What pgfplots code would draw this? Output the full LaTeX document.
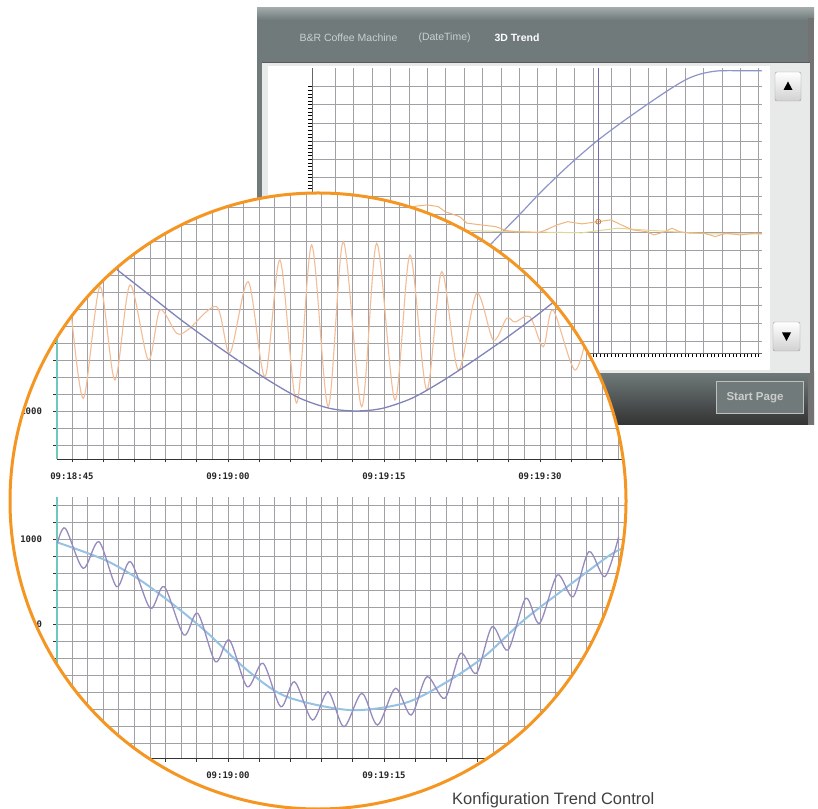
\documentclass[border=0pt]{standalone}
\usepackage{pgfplots}
\pgfplotsset{compat=1.18}
\usepackage{fontspec}
\setmainfont{Liberation Sans}
\newfontfamily\tickfont{DejaVu Sans Mono}
\definecolor{orng}{RGB}{245,150,35}
\definecolor{winbody}{RGB}{112,122,122}
\definecolor{winlight}{RGB}{160,168,168}
\definecolor{panel}{RGB}{232,234,234}
\definecolor{hdr}{RGB}{200,208,208}
\definecolor{gridc}{RGB}{160,160,165}
\definecolor{cgrid}{RGB}{160,160,165}
\definecolor{tealc}{RGB}{110,200,190}
\definecolor{blueA}{RGB}{140,148,200}
\definecolor{orA}{RGB}{240,180,125}
\definecolor{yelA}{RGB}{225,215,145}
\definecolor{curs}{RGB}{110,110,170}
\definecolor{orB}{RGB}{242,188,150}
\definecolor{blueB}{RGB}{128,132,185}
\definecolor{ltblue}{RGB}{150,195,228}
\definecolor{purp}{RGB}{150,138,190}
\pgfplotsset{
  circax/.style={scale only axis, width=583pt, xmin=43.56, xmax=99.62,
    axis lines*=left, axis line style={-},
    x axis line style={black!80, line width=0.8pt},
    y axis line style={tealc, line width=2.2pt},
    xtick={45,48,...,99}, minor x tick num=1,
    grid=both, major grid style={cgrid, line width=0.8pt},
    minor grid style={cgrid, line width=0.8pt},
    tick style={black!80, line width=0.7pt},
    major tick length=3.5pt, minor tick length=0pt, tick align=outside,
    ticklabel style={font=\tickfont\bfseries\fontsize{9}{10}\selectfont, text=black!85},
    xticklabel style={yshift=-7pt}, yticklabel style={xshift=-8pt},
    xticklabels={09:18:45,,,,,09:19:00,,,,,09:19:15,,,,,09:19:30,,,}}
}
\begin{document}
\begin{tikzpicture}
\useasboundingbox (0pt,0pt) rectangle (818pt,808pt);
% ---- window ----
\fill[winbody] (257pt,383pt) rectangle (814pt,800pt);
\shade[top color=winlight, bottom color=winbody] (257pt,788pt) rectangle (814pt,800pt);
\shade[top color=winbody, bottom color=black!80] (257pt,383pt) rectangle (814pt,436pt);
\fill[black!55] (808pt,383pt) rectangle (814pt,790pt);
\fill[panel] (262pt,435pt) rectangle (810pt,745pt);
\draw[black!65, line width=1.5pt] (262pt,745.5pt)--(810pt,745.5pt);
\fill[white] (268pt,438pt) rectangle (770pt,742pt);
\node[anchor=west, text=hdr, font=\fontsize{10.5}{11}\selectfont] at (296pt,770pt) {B\&R Coffee Machine};
\node[anchor=west, text=hdr, font=\fontsize{10.5}{11}\selectfont] at (415pt,770pt) {(DateTime)};
\node[anchor=west, text=white, font=\bfseries\fontsize{10.5}{11}\selectfont] at (491pt,770pt) {3D Trend};
% up / down buttons
\draw[rounded corners=2pt, top color=white, bottom color=black!18, draw=black!40] (775pt,707pt) rectangle (801pt,736pt);
\fill[black] (788pt,726.5pt) -- (783.5pt,718pt) -- (792.5pt,718pt) -- cycle;
\draw[rounded corners=2pt, top color=white, bottom color=black!18, draw=black!40] (773pt,457pt) rectangle (800pt,486pt);
\fill[black] (786.5pt,467pt) -- (782pt,475.5pt) -- (791pt,475.5pt) -- cycle;
% start page button
\draw[draw=black!25, line width=1pt, fill=winbody] (716.5pt,394.5pt) rectangle (803.5pt,426.5pt);
\node[text=black!20, font=\bfseries\fontsize{11.5}{12}\selectfont] at (755pt,410pt) {Start Page};
% ---- 3D trend axis ----
\begin{axis}[at={(312pt,455pt)}, anchor=south west, scale only axis,
  width=450pt, height=284.5pt,
  xmin=-1.27, xmax=23.17, ymin=-0.62, ymax=15,
  xtick={0,...,23}, ytick={0,...,14}, xticklabel=\empty, yticklabel=\empty,
  grid=major, major grid style={gridc, line width=0.9pt},
  minor tick num=4, tick style={black, line width=0.9pt},
  major tick length=4pt, minor tick length=4pt, tick align=outside,
  axis lines*=left, axis line style={-, black!60}]
\addplot[blueA, line width=1.2pt, smooth] coordinates {
(3.52,0.64) (5.69,2.55) (8.31,5.22) (9.09,6.04) (10.07,7.05) (11.05,8.10) (12.03,9.07)
(13.0,9.98) (14.28,11.08) (15.74,12.18) (17.30,13.28) (18.3,13.95) (19.06,14.40)
(19.7,14.66) (20.4,14.82) (21.1,14.88) (23.17,14.87)};
\addplot[yelA, line width=1pt] coordinates {
(7.14,6.10) (9.50,6.04) (13.39,5.98) (15.34,6.23) (17.30,6.10) (20.22,5.92) (23.17,5.92)};
\addplot[orA, line width=1pt] coordinates {
(4.21,7.42) (4.98,7.51) (5.58,7.42) (5.96,7.14) (6.74,6.87) (7.14,6.51) (7.92,6.41)
(8.70,6.32) (9.29,6.10) (9.88,6.04) (11.05,5.99) (11.44,6.14) (12.03,6.41) (12.61,6.59)
(13.39,6.47) (14.28,6.59) (14.96,6.69) (15.54,6.41) (16.13,6.14) (16.91,6.04) (17.30,5.86)
(17.89,6.04) (18.28,6.23) (18.68,6.04) (19.26,5.96) (20.04,5.96) (20.63,5.77) (21.21,5.96)
(22.0,5.86) (22.78,5.96) (23.17,5.92)};
\addplot[curs, line width=0.8pt] coordinates {(14.28,-0.62) (14.28,15)};
\addplot[only marks, mark=o, mark size=2.5pt, mark options={draw=brown!80!orange, line width=0.8pt}] coordinates {(14.28,6.59)};
\end{axis}
% ---- magnifier ----
\fill[white] (318pt,307pt) circle (308pt);
\begin{scope}
\clip (318pt,307pt) circle (308pt);
\begin{axis}[circax, at={(57pt,349pt)}, anchor=south west, height=269pt,
  ymin=435, ymax=3600, ytick={600,800,...,3600},
  yticklabels={,,1000,,,,,2000,,,,,3000,,,}]
\addplot[orB, line width=1.1pt, smooth] coordinates {
(44.81,2306) (46.09,1149) (47.69,2462) (49.13,1365) (50.58,2482) (52.34,1600)
(53.46,2188) (55.07,1914) (56.2,1960) (58.91,2227) (60.19,1682) (61.95,2521) (63.56,1404)
(65.0,2776) (66.61,1094) (68.05,2953) (69.64,1051) (71.09,2992) (72.86,1051)
(74.30,2973) (76.06,1129) (77.50,2835) (79.11,1247) (80.55,2639) (82.14,1482)
(83.91,2385) (85.51,1835) (86.80,2091) (87.6,2047) (89.04,2109) (90.32,1756)
(91.25,2188) (93.37,1482) (94.81,2071)};
\addplot[blueB, line width=1.3pt, smooth] coordinates {
(47.69,2824) (49.62,2635) (52.5,2359) (55.38,2082) (58.27,1824) (61.15,1580)
(64.04,1350) (66.92,1150) (69.81,1030) (72.31,1000) (74.81,1030) (77.69,1150)
(80.58,1350) (83.46,1580) (86.35,1824) (89.23,2082) (92.12,2359) (95.0,2635) (96.92,2824)};
\end{axis}
\begin{axis}[circax, at={(57pt,50pt)}, anchor=south west, height=261pt,
  ymin=-1576, ymax=1494, ytick={-1400,-1200,...,1400},
  yticklabels={,,-1000,,,,,0,,,,,1000,,}]
\addplot[ltblue, line width=2pt, smooth] coordinates {
(43.6,960) (48.17,753) (51.54,518) (55.0,204) (58.04,-106) (61.83,-541)
(65.64,-855) (71.73,-1012) (77.02,-929) (80.87,-694) (84.62,-385) (88.46,47)
(92.21,400) (96.06,753) (97.21,847) (98.65,929)};
\addplot[purp, line width=1.3pt, smooth] coordinates {
(43.6,949) (44.36,1126) (46.07,655) (47.59,968) (49.30,439) (50.63,733) (52.53,185)
(53.87,439) (55.76,-129) (57.09,126) (58.80,-444) (60.13,-188) (61.85,-738)
(63.37,-462) (65.07,-973) (66.40,-679) (68.12,-1129) (69.63,-796) (71.15,-1208)
(72.87,-815) (74.38,-1188) (76.10,-756) (77.62,-1071) (79.13,-620) (80.85,-874)
(82.37,-345) (83.88,-580) (85.40,-32) (86.92,-306) (88.63,302) (89.96,8)
(91.67,576) (93.19,321) (94.71,851) (96.24,556) (97.57,1027)};
\end{axis}
\end{scope}
\draw[orng, line width=3pt] (318pt,307pt) circle (308pt);
\node[anchor=base west, inner sep=0pt, font=\fontsize{16.5}{18}\selectfont, text=black!75] at (452pt,4pt) {Konfiguration Trend Control};
\end{tikzpicture}
\end{document}
